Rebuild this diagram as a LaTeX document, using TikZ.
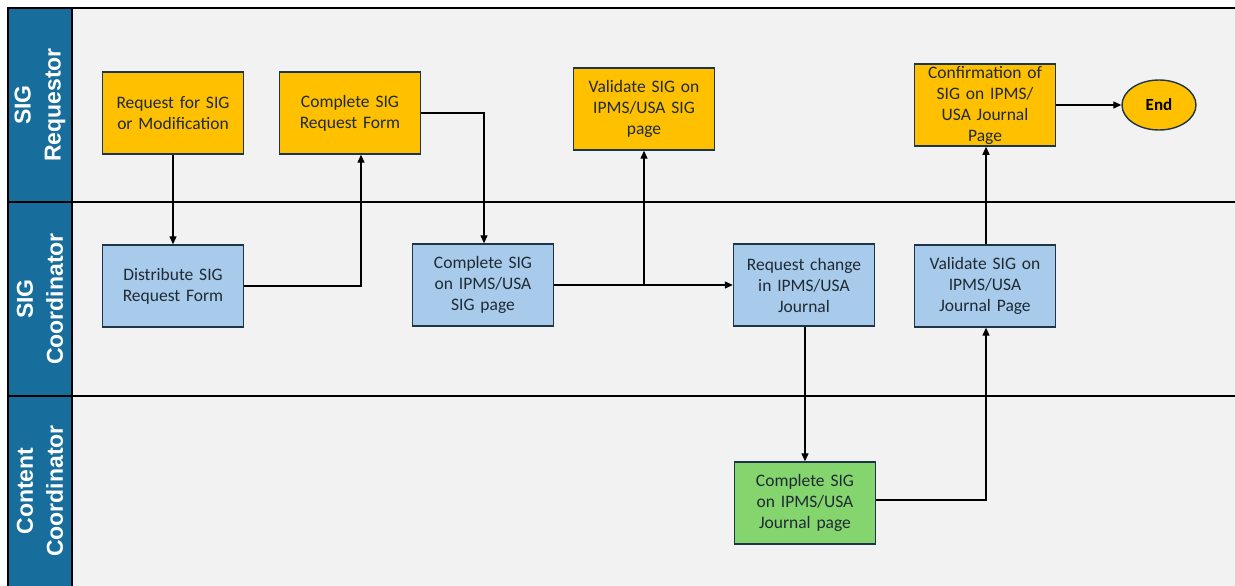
\documentclass[tikz,border=0pt]{standalone}
\usepackage{fontspec}
\setmainfont{Carlito}
\newfontfamily\lanefont{Liberation Sans}
\usetikzlibrary{arrows.meta,shapes.geometric}
\definecolor{bg}{HTML}{F2F2F2}
\definecolor{lanehead}{HTML}{176E9C}
\definecolor{yel}{HTML}{FFC000}
\definecolor{blu}{HTML}{A8CBEC}
\definecolor{grn}{HTML}{85D56F}
\definecolor{edge}{HTML}{1E3447}
\definecolor{txt}{HTML}{1F2A33}
\tikzset{
  box/.style={draw=edge, line width=1.4pt, minimum width=141pt, minimum height=82pt, align=center, text width=136pt, font=\fontsize{17.5}{21}\selectfont, text=txt, inner sep=2pt},
  ybox/.style={box, fill=yel},
  bbox/.style={box, fill=blu},
  gbox/.style={box, fill=grn},
  lanelbl/.style={rotate=90, align=center, text=white, font=\lanefont\bfseries\fontsize{23}{30}\selectfont},
  conn/.style={draw=black, line width=1.3pt},
  arr/.style={conn, -{Triangle[length=8pt,width=7pt]}},
}
\begin{document}
\begin{tikzpicture}[x=1pt,y=-1pt]
\useasboundingbox (0,0) rectangle (1235,586);
\fill[white] (0,0) rectangle (1235,586);
% lanes
\fill[bg] (8,8) rectangle (1235,586);
\fill[lanehead] (8,8) rectangle (72,586);
\draw[black, line width=1.5pt] (1236,8) -- (8,8) -- (8,587);
\draw[black, line width=1.5pt] (72,8) -- (72,587);
\draw[black, line width=1.5pt] (8,202) -- (1236,202);
\draw[black, line width=1.5pt] (8,396) -- (1236,396);
\node[lanelbl] (l1) at (40,105) {SIG\\Requestor};
\node[lanelbl] (l2) at (40,299) {SIG\\Coordinator};
\node[lanelbl] (l3) at (40,491) {Content\\Coordinator};
% boxes
\node[ybox] (req) at (173,113) {Request for SIG\\or Modification};
\node[ybox] (form) at (350,113) {Complete SIG\\Request Form};
\node[ybox] (val) at (644,109) {Validate SIG on\\IPMS/USA SIG\\page};
\node[ybox] (conf) at (985,105) {Confirmation of\\SIG on IPMS/\\USA Journal\\Page};
\node[draw=edge, line width=1.4pt, fill=yel, ellipse, minimum width=74pt, minimum height=50pt, font=\fontsize{17}{20}\selectfont\bfseries, text=black, inner sep=0pt] (end) at (1159,105) {End};
\node[bbox] (dist) at (173,286) {Distribute SIG\\Request Form};
\node[bbox] (comp) at (483,285) {Complete SIG\\on IPMS/USA\\SIG page};
\node[bbox] (chg) at (804,285) {Request change\\in IPMS/USA\\Journal};
\node[bbox] (valj) at (985,286) {Validate SIG on\\IPMS/USA\\Journal Page};
\node[gbox] (compj) at (805,503) {Complete SIG\\on IPMS/USA\\Journal page};
% connectors
\coordinate (c1) at (361,286);
\coordinate (c2) at (484,113);
\coordinate (c3) at (644,285);
\coordinate (c4) at (986,500);
\draw[arr] (req.south) -- (req.south |- dist.north);
\draw[arr] (dist.east |- c1) -- (c1) -- (c1 |- form.south);
\draw[arr] (form.east) -- (c2) -- (c2 |- comp.north);
\draw[arr] (comp.east |- c3) -- (chg.west |- c3);
\draw[arr] (c3) -- (val.south);
\draw[arr] (chg.south -| compj.north) -- (compj.north);
\draw[arr] (compj.east |- c4) -- (c4) -- (c4 |- valj.south);
\draw[arr] (valj.north -| c4) -- (c4 |- conf.south);
\draw[arr] (conf.east) -- (end.west);
\end{tikzpicture}
\end{document}
